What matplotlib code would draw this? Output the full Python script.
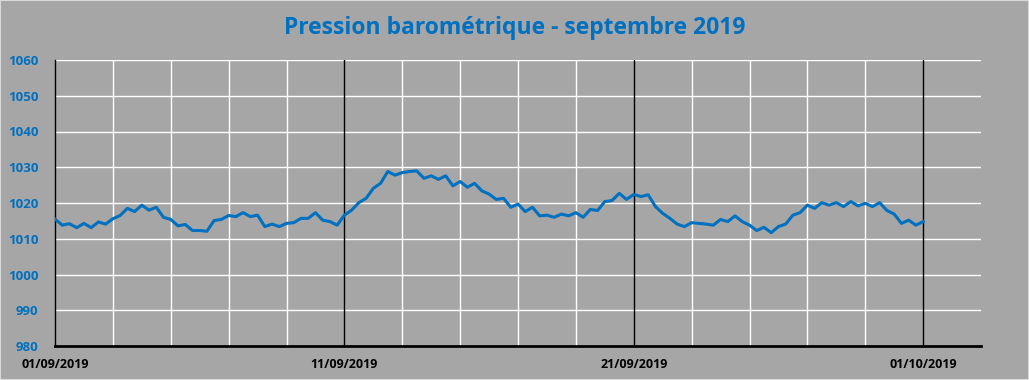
import matplotlib
matplotlib.use("Agg")
import matplotlib.pyplot as plt
from matplotlib.patches import Rectangle
import pandas as pd

# ---- data ----
title = "Pression barométrique - septembre 2019"
start = "2019-09-01"
pressure = [
    1015.5, 1013.8, 1014.2, 1013.1, 1014.3, 1013.1, 1014.7, 1014.1, 1015.6, 1016.5,
    1018.5, 1017.6, 1019.4, 1018.0, 1018.8, 1016.0, 1015.4, 1013.6, 1014.0, 1012.3, 1012.3,
    1012.1, 1015.1, 1015.4, 1016.5, 1016.2, 1017.3, 1016.2, 1016.6, 1013.4, 1014.1,
    1013.4, 1014.3, 1014.5, 1015.7, 1015.7, 1017.3, 1015.2, 1014.8, 1013.8, 1016.6,
    1018.0, 1020.1, 1021.3, 1024.1, 1025.5, 1028.8, 1027.8, 1028.5, 1028.8, 1029.0,
    1026.9, 1027.6, 1026.6, 1027.6, 1024.8, 1026.0, 1024.4, 1025.5, 1023.4, 1022.5,
    1021.0, 1021.3, 1018.8, 1019.7, 1017.6, 1018.8, 1016.4, 1016.6, 1016.0, 1016.9,
    1016.4, 1017.3, 1016.0, 1018.2, 1017.9, 1020.4, 1020.7, 1022.7, 1021.0, 1022.4,
    1021.8, 1022.3, 1019.0, 1017.1, 1015.7, 1014.1, 1013.4, 1014.5, 1014.3, 1014.1,
    1013.8, 1015.4, 1014.8, 1016.4, 1014.8, 1013.8, 1012.3, 1013.2, 1011.7, 1013.4,
    1014.1, 1016.6, 1017.3, 1019.4, 1018.5, 1020.1, 1019.4, 1020.1, 1019.0, 1020.4,
    1019.2, 1019.9, 1019.0, 1020.1, 1017.9, 1016.9, 1014.3, 1015.2, 1013.8, 1014.8,
]
times = pd.date_range(start, periods=len(pressure), freq="6h")
xlabels_dates = ["2019-09-01", "2019-09-11", "2019-09-21", "2019-10-01"]
y_ticks = [980, 990, 1000, 1010, 1020, 1030, 1040, 1050, 1060]

# ---- style ----
bg = "#a6a6a6"
blue = "#0070c0"
plt.rcParams["font.family"] = ["Open Sans", "DejaVu Sans"]

fig = plt.figure(figsize=(10.29, 3.80), dpi=100, facecolor=bg)
fig.patches.append(Rectangle((0, 0), 1, 1, transform=fig.transFigure, fill=False,
                             edgecolor="#d9d9d9", linewidth=1.5, zorder=10))
ax = fig.add_axes([55 / 1029, 1 - 346 / 380, (981 - 55) / 1029, (346 - 60) / 380])
ax.set_facecolor(bg)

x0 = pd.Timestamp(start)
x1 = pd.Timestamp("2019-10-03")
ax.set_xlim(x0, x1)
ax.set_ylim(980, 1060)

# gridlines
for yv in y_ticks[1:]:
    ax.axhline(yv, color="white", linewidth=1.0, zorder=1)
for d in pd.date_range(x0, x1, freq="2D")[1:-1]:
    if d.strftime("%Y-%m-%d") in xlabels_dates:
        continue
    ax.axvline(d, color="white", linewidth=1.0, zorder=1)
for d in xlabels_dates[1:]:
    ax.axvline(pd.Timestamp(d), color="black", linewidth=1.0, zorder=1)

ax.plot(times, pressure, color=blue, linewidth=2.2, zorder=3, solid_joinstyle="round")

ax.set_yticks(y_ticks)
ax.set_yticklabels([str(v) for v in y_ticks], color=blue, fontweight="bold", fontsize=9.5)
xt = [pd.Timestamp(d) for d in xlabels_dates]
ax.set_xticks(xt)
ax.set_xticklabels([t.strftime("%d/%m/%Y") for t in xt], color="black",
                   fontweight="bold", fontsize=9)
ax.tick_params(axis="both", length=0)
ax.tick_params(axis="y", pad=12)
ax.tick_params(axis="x", pad=9)

for s in ["top", "right"]:
    ax.spines[s].set_visible(False)
ax.spines["left"].set_color("black")
ax.spines["left"].set_linewidth(1.0)
ax.spines["bottom"].set_color("black")
ax.spines["bottom"].set_linewidth(2.0)

fig.text(0.5, 1 - 28 / 380, title, ha="center", va="center", color=blue,
         fontweight="bold", fontsize=16.5)

fig.savefig("out.png", dpi=100, facecolor=bg)
